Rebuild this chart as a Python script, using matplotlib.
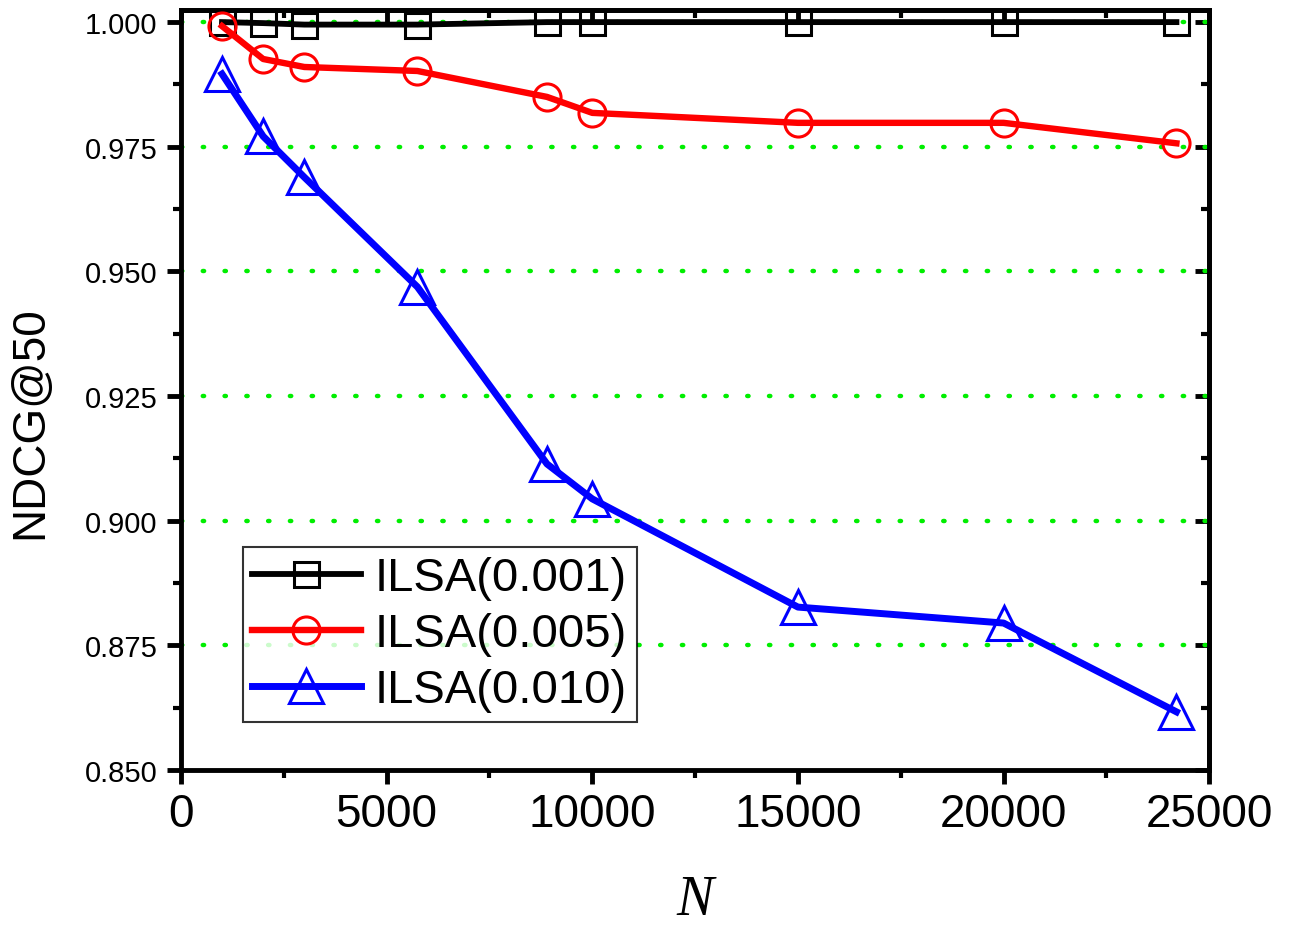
import numpy as np
import matplotlib
matplotlib.use('Agg')
import matplotlib.pyplot as plt
from matplotlib.ticker import MultipleLocator

plt.rcParams['font.family'] = ['Liberation Sans', 'DejaVu Sans']

# data
n_vals = [1000, 2000, 3000, 5750, 8900, 10000, 15000, 20000, 24200]
ilsa_001 = [1.0000, 0.9998, 0.9995, 0.9995, 1.0000, 1.0000, 1.0000, 1.0000, 1.0000]
ilsa_005 = [0.9992, 0.9926, 0.9910, 0.9902, 0.9850, 0.9818, 0.9798, 0.9798, 0.9757]
ilsa_010 = [0.9896, 0.9771, 0.9689, 0.9469, 0.9114, 0.9044, 0.8827, 0.8795, 0.8617]
labels = ['ILSA(0.001)', 'ILSA(0.005)', 'ILSA(0.010)']
grid_vals = [0.875, 0.900, 0.925, 0.950, 0.975, 1.000]

fig = plt.figure(figsize=(12.92, 9.28), dpi=100)
ax = fig.add_axes([0.140, 0.169, 0.796, 0.819])

for g in grid_vals:
    ax.axhline(g, color='#00ee00', lw=3.2, ls=(0, (0.3, 4.6)), dash_capstyle='round', zorder=1)

ax.plot(n_vals, ilsa_001, color='black', lw=4.2, marker='s', ms=18, mfc='none',
        mec='black', mew=2.2, label=labels[0], zorder=3)
ax.plot(n_vals, ilsa_005, color='red', lw=4.6, marker='o', ms=19.5, mfc='none',
        mec='red', mew=2.2, label=labels[1], zorder=4)
ax.plot(n_vals, ilsa_010, color='blue', lw=5, marker='^', ms=24, mfc='none',
        mec='blue', mew=2.2, label=labels[2], zorder=5)

ax.set_xlim(0, 25000)
ax.set_ylim(0.85, 1.0024)
ax.xaxis.set_major_locator(MultipleLocator(5000))
ax.xaxis.set_minor_locator(MultipleLocator(2500))
ax.yaxis.set_major_locator(MultipleLocator(0.025))
ax.yaxis.set_minor_locator(MultipleLocator(0.0125))
ax.yaxis.set_major_formatter(matplotlib.ticker.FormatStrFormatter('%.3f'))

for s in ax.spines.values():
    s.set_linewidth(3.5)

ax.tick_params(axis='x', which='major', direction='out', length=10, width=3.5,
               labelsize=33, pad=6)
ax.tick_params(axis='x', which='minor', direction='out', length=6, width=3)
ax.tick_params(axis='y', which='major', direction='out', length=10, width=3.5,
               labelsize=21, pad=7)
ax.tick_params(axis='y', which='minor', direction='out', length=6, width=3)

# inward ticks on top and right
top = ax.secondary_xaxis('top')
top.xaxis.set_major_locator(MultipleLocator(5000))
top.xaxis.set_minor_locator(MultipleLocator(2500))
top.tick_params(which='major', direction='in', length=10, width=3.5, labeltop=False)
top.tick_params(which='minor', direction='in', length=6, width=3)
top.spines['top'].set_linewidth(3.5)
right = ax.secondary_yaxis('right')
right.yaxis.set_major_locator(MultipleLocator(0.025))
right.yaxis.set_minor_locator(MultipleLocator(0.0125))
right.tick_params(which='major', direction='in', length=10, width=3.5, labelright=False)
right.tick_params(which='minor', direction='in', length=6, width=3)
right.spines['right'].set_linewidth(3.5)

ax.set_ylabel('NDCG@50', fontsize=33)
ax.yaxis.set_label_coords(-0.125, 0.459)
ax.set_xlabel('N', fontsize=40, family=['Liberation Serif'], style='italic')
ax.xaxis.set_label_coords(0.5, -0.137)

leg = ax.legend(loc='lower left', bbox_to_anchor=(0.06, 0.064), fontsize=34,
                frameon=True, fancybox=False, edgecolor='black', handlelength=2.3,
                handletextpad=0.3, borderpad=0.2, labelspacing=0.25,
                borderaxespad=0)
leg.get_frame().set_linewidth(1.5)

fig.savefig('out.png', dpi=100)
